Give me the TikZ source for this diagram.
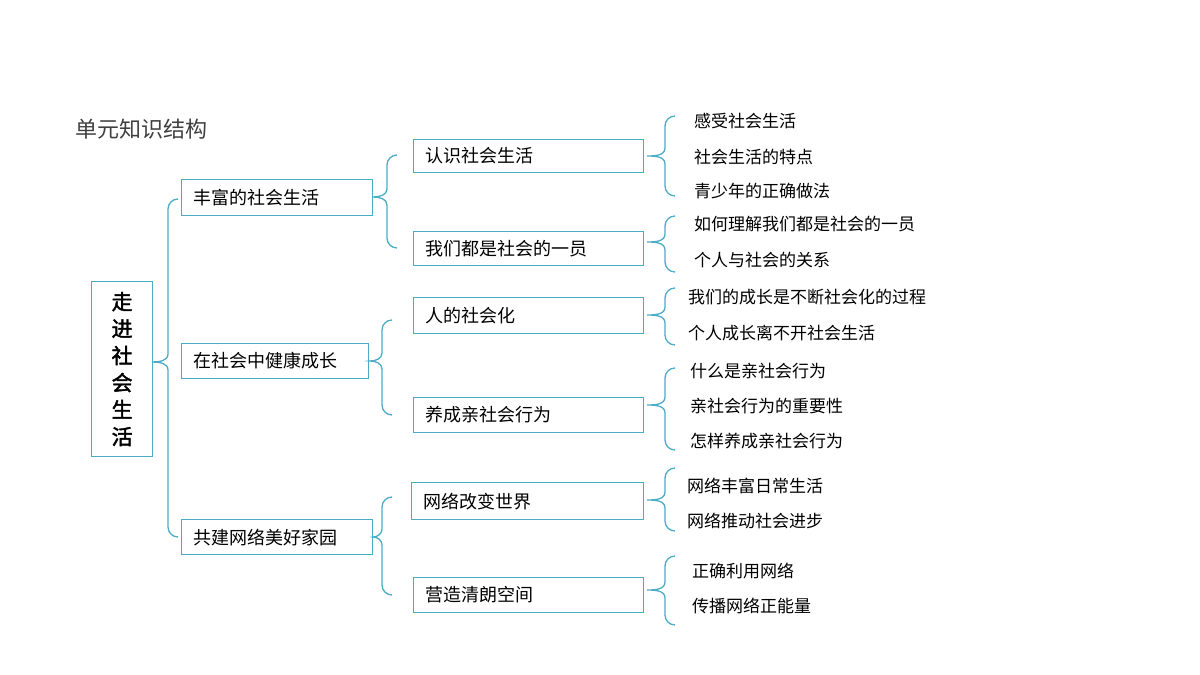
\documentclass[tikz,border=0pt]{standalone}
\usepackage{fontspec}
\setmainfont{Noto Sans CJK SC}
\newfontfamily\cjkb[FakeBold=2]{Noto Sans CJK SC}
\definecolor{ln}{HTML}{4BACC6}
\begin{document}
\begin{tikzpicture}[x=1pt,y=-1pt,
  bx/.style={draw=ln,line width=1.2pt,inner sep=0pt,anchor=north west},
  lf/.style={anchor=west,font=\fontsize{17}{17}\selectfont,inner sep=0pt},
  br/.style={draw=ln,line width=1.3pt}]
\useasboundingbox (0,0) rectangle (1200,675);
\newcommand\brc[5]{% tip x, vx, top, tip y, bottom
 \draw[br] (#2+10,#3) to[out=180,in=90] (#2,#3+10) -- (#2,#4-8) to[out=-90,in=0] (#1,#4) to[out=0,in=90] (#2,#4+8) -- (#2,#5-10) to[out=-90,in=180] (#2+10,#5);}
\node[anchor=west,font=\fontsize{22}{22}\selectfont,text=black!75,inner sep=0pt] (t) at (75,129) {单元知识结构};
\node[bx,minimum width=61pt,minimum height=175pt] (r) at (91,281) {};
\node[font=\cjkb\fontsize{21}{27}\selectfont,align=center] (rt) at (r.center) {走\\进\\社\\会\\生\\活};
\newcommand\bnode[6]{\node[bx,minimum width=#4pt,minimum height=#5pt] (#1) at (#2,#3) {};
 \node[lf,font=\fontsize{18}{18}\selectfont] (#1t) at ([xshift=12pt]#1.west) {#6};}
\bnode{a}{181}{179}{191}{36}{丰富的社会生活}
\bnode{b}{181}{343}{187}{35}{在社会中健康成长}
\bnode{c}{181}{519}{191}{35}{共建网络美好家园}
\bnode{a1}{413}{139}{230}{33}{认识社会生活}
\bnode{a2}{413}{231}{230}{34}{我们都是社会的一员}
\bnode{b1}{413}{297}{230}{36}{人的社会化}
\bnode{b2}{413}{397}{230}{35}{养成亲社会行为}
\bnode{c1}{411}{482}{232}{37}{网络改变世界}
\bnode{c2}{413}{577}{230}{35}{营造清朗空间}
\brc{152}{168}{199}{362}{537}
\brc{373}{387}{155}{197}{248}
\brc{370}{382}{320}{361}{415}
\brc{373}{382}{497}{537}{595}
\brc{647}{665}{116}{156}{196}
\brc{647}{665}{216}{242}{272}
\brc{647}{665}{288}{315}{345}
\brc{647}{665}{368}{405}{450}
\brc{647}{665}{468}{500}{531}
\brc{647}{665}{556}{590}{625}
\node[lf] (l1) at (694,121) {感受社会生活};
\node[lf] (l2) at (694,157) {社会生活的特点};
\node[lf] (l3) at (694,191) {青少年的正确做法};
\node[lf] (l4) at (694,224) {如何理解我们都是社会的一员};
\node[lf] (l5) at (694,260) {个人与社会的关系};
\node[lf] (l6) at (688,297) {我们的成长是不断社会化的过程};
\node[lf] (l7) at (688,333) {个人成长离不开社会生活};
\node[lf] (l8) at (690,371) {什么是亲社会行为};
\node[lf] (l9) at (690,406) {亲社会行为的重要性};
\node[lf] (l10) at (690,441) {怎样养成亲社会行为};
\node[lf] (l11) at (687,486) {网络丰富日常生活};
\node[lf] (l12) at (687,521) {网络推动社会进步};
\node[lf] (l13) at (692,571) {正确利用网络};
\node[lf] (l14) at (692,606) {传播网络正能量};
\end{tikzpicture}
\end{document}
